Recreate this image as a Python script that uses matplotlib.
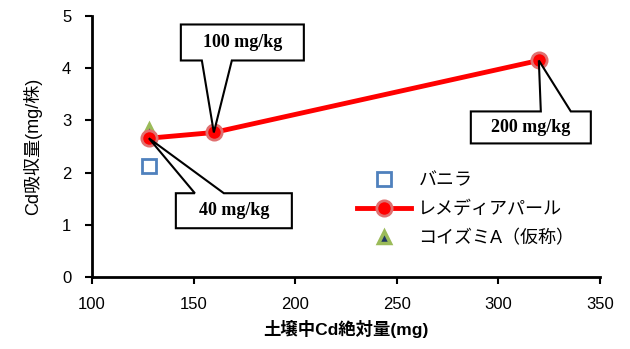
import matplotlib

matplotlib.use("Agg")
import matplotlib.pyplot as plt
import matplotlib.transforms as mtransforms
from matplotlib.patches import Polygon

plt.rcParams["font.family"] = ["Liberation Sans", "Noto Sans CJK JP", "DejaVu Sans"]

# data
vanilla_x = [128]
vanilla_y = [2.13]
remedia_x = [128, 160, 320]
remedia_y = [2.66, 2.77, 4.15]
koizumi_x = [128]
koizumi_y = [2.82]
series_names = ["バニラ", "レメディアパール", "コイズミA（仮称）"]
callout_labels = ["40 mg/kg", "100 mg/kg", "200 mg/kg"]
x_ticks = [100, 150, 200, 250, 300, 350]
y_ticks = [0, 1, 2, 3, 4, 5]

# callout shapes in pixels relative to each point (x0, x1, y_near, y_far, w0, w1)
callout_shapes = [
    (27, 143, -55, -90, 46, 75),
    (-33, 90, 72, 108, -12, 18),
    (-68, 52, -51, -83, 2, 32),
]

DPI = 100
fig = plt.figure(figsize=(6.3, 3.49), dpi=DPI)
ax = fig.add_axes([0.146, 0.206, 0.806, 0.748])

ax.plot(vanilla_x, vanilla_y, linestyle="none", marker="s", markersize=10,
        markerfacecolor="white", markeredgecolor="#4F81BD", markeredgewidth=2,
        label=series_names[0], zorder=3)
ax.plot(koizumi_x, koizumi_y, linestyle="none", marker="^", markersize=9,
        markerfacecolor="#1F3864", markeredgecolor="#9BBB59", markeredgewidth=2.5,
        label=series_names[2], zorder=3)
ax.plot(remedia_x, remedia_y, color="#FF0000", linewidth=3.5, marker="o",
        markersize=11, markerfacecolor="#FF0000", markeredgecolor="#E07070",
        markeredgewidth=2, label=series_names[1], zorder=4)

for (px, py), text, shape in zip(zip(remedia_x, remedia_y), callout_labels, callout_shapes):
    x0, x1, yn, yf, w0, w1 = shape
    trans = fig.dpi_scale_trans + mtransforms.ScaledTranslation(px, py, ax.transData)
    verts = [(x0, yn), (w0, yn), (0, 0), (w1, yn), (x1, yn), (x1, yf), (x0, yf)]
    verts = [(vx / DPI, vy / DPI) for vx, vy in verts]
    ax.add_patch(Polygon(verts, closed=True, facecolor="white", edgecolor="black",
                         linewidth=1.5, transform=trans, zorder=5, clip_on=False))
    ax.text((x0 + x1) / 2 / DPI, (yn + yf) / 2 / DPI, text, transform=trans,
            ha="center", va="center", fontsize=13, fontweight="bold",
            family="Liberation Serif", zorder=6)

ax.set_xlim(100, 350)
ax.set_ylim(0, 5)
ax.set_xticks(x_ticks)
ax.set_yticks(y_ticks)
ax.tick_params(direction="out", length=5, width=1.5, labelsize=12)
ax.tick_params(axis="x", pad=9)
ax.tick_params(axis="y", pad=10)
for side in ["top", "right"]:
    ax.spines[side].set_visible(False)
for side in ["left", "bottom"]:
    ax.spines[side].set_linewidth(2)

ax.set_xlabel("土壌中Cd絶対量(mg)", fontsize=12.5, fontweight="bold", labelpad=6)
ax.set_ylabel("Cd吸収量(mg/株)", fontsize=13, labelpad=14)

handles, labels = ax.get_legend_handles_labels()
order = [0, 2, 1]
ax.legend([handles[i] for i in order], [labels[i] for i in order],
          loc="upper left", bbox_to_anchor=(0.49, 0.465), frameon=False,
          fontsize=13, handlelength=3.0, handletextpad=0.4, labelspacing=0.68)

fig.savefig("out.png", dpi=DPI)
